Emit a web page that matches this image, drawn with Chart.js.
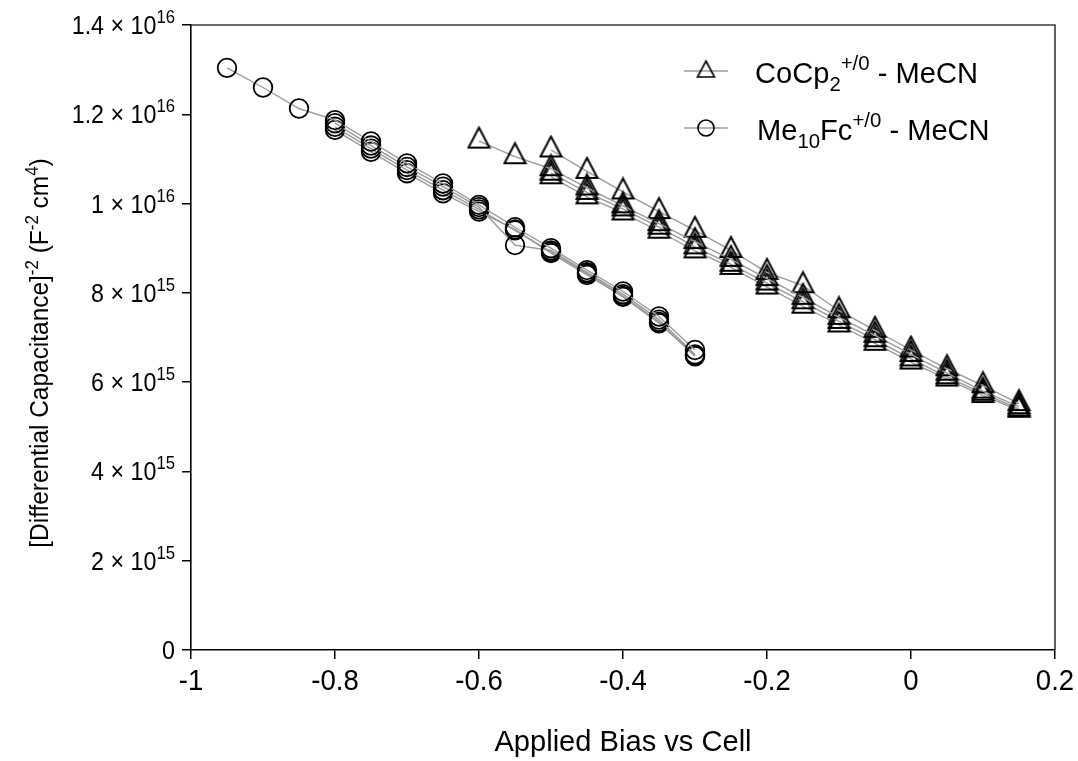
<!DOCTYPE html>
<html>
<head>
<meta charset="utf-8">
<script src="https://cdn.jsdelivr.net/npm/chart.js@4.4.0/dist/chart.umd.min.js"></script>
<style>
    html, body { margin: 0; padding: 0; background: #fff; }
    #wrap { width: 1078px; height: 761px; }
</style>
</head>
<body>
<div id="wrap"><canvas id="mottSchottky" width="1078" height="761"></canvas></div>
<script>
(function () {
    'use strict';

    // values in units of 1e15 F^-2 cm^4
    var biasCo060 = [-0.6, -0.55, -0.5, -0.45, -0.4, -0.35, -0.3, -0.25, -0.2, -0.15, -0.1, -0.05, 0, 0.05, 0.1, 0.15];
    var biasCo050 = [-0.5, -0.45, -0.4, -0.35, -0.3, -0.25, -0.2, -0.15, -0.1, -0.05, 0, 0.05, 0.1, 0.15];
    var capCoScan1 = [11.40, 11.05, 10.78, 10.35, 9.95, 9.55, 9.15, 8.75, 8.32, 7.90, 7.45, 7.05, 6.62, 6.20, 5.80, 5.45];
    var capCoScan2 = [11.20, 10.72, 10.26, 9.82, 9.40, 8.95, 8.46, 8.16, 7.60, 7.16, 6.72, 6.30, 5.92, 5.52];
    var capCoScan3 = [10.68, 10.25, 9.88, 9.47, 9.03, 8.64, 8.22, 7.80, 7.36, 6.95, 6.52, 6.12, 5.75, 5.40];
    var capCoScan4 = [10.60, 10.15, 9.79, 9.38, 8.94, 8.57, 8.13, 7.70, 7.28, 6.87, 6.45, 6.07, 5.70, 5.37];

    var biasMe095 = [-0.95, -0.9, -0.85, -0.8, -0.75, -0.7, -0.65, -0.6, -0.55, -0.5, -0.45, -0.4, -0.35, -0.3];
    var biasMe080 = [-0.8, -0.75, -0.7, -0.65, -0.6, -0.55, -0.5, -0.45, -0.4, -0.35, -0.3];
    var capMeScan1 = [13.04, 12.60, 12.13, 11.87, 11.39, 10.90, 10.45, 9.97, 9.47, 9.00, 8.51, 8.03, 7.47, 6.72];
    var capMeScan2 = [11.80, 11.30, 10.82, 10.38, 9.92, 9.07, 8.95, 8.46, 7.97, 7.40, 6.62];
    var capMeScan3 = [11.72, 11.23, 10.75, 10.30, 9.87, 9.40, 8.92, 8.43, 7.93, 7.35, 6.58];
    var capMeScan4 = [11.65, 11.16, 10.68, 10.23, 9.82, 9.42, 8.89, 8.40, 7.91, 7.32, 6.60];

    var xTickLabels = ['-1', '-0.8', '-0.6', '-0.4', '-0.2', '0', '0.2'];
    var yTickMant = ['0', '2', '4', '6', '8', '1', '1.2', '1.4'];
    var yTickExp = ['', '15', '15', '15', '15', '16', '16', '16'];

    var FONT = '"Liberation Sans", Arial, Helvetica, sans-serif';
    var LINE_GREY = 'rgb(155,155,155)';

    function pts(xs, ys) {
        return xs.map(function (x, i) { return { x: x, y: ys[i] }; });
    }

    // open triangle, canvas centred on the centroid
    function triangleImage(w, h, lw) {
        var pad = 2;
        var c = document.createElement('canvas');
        c.width = Math.ceil(w + 2 * pad);
        c.height = Math.ceil(2 * (pad + 2 * h / 3));
        var g = c.getContext('2d');
        var cx = c.width / 2;
        g.beginPath();
        g.moveTo(cx, pad);
        g.lineTo(cx + w / 2, pad + h);
        g.lineTo(cx - w / 2, pad + h);
        g.closePath();
        g.lineWidth = lw;
        g.strokeStyle = '#000';
        g.stroke();
        return c;
    }
    var triData = triangleImage(21, 20, 2);
    var triLegend = triangleImage(17, 16, 1.6);

    function triSet(xs, ys) {
        return {
            data: pts(xs, ys),
            showLine: true,
            borderColor: LINE_GREY,
            borderWidth: 1.4,
            pointStyle: triData,
            pointRadius: 10,
            tension: 0
        };
    }
    function circSet(xs, ys) {
        return {
            data: pts(xs, ys),
            showLine: true,
            borderColor: LINE_GREY,
            borderWidth: 1.4,
            pointStyle: 'circle',
            pointRadius: 9.3,
            pointBorderColor: '#000',
            pointBorderWidth: 1.8,
            pointBackgroundColor: 'rgba(0,0,0,0)',
            tension: 0
        };
    }

    // text pieces; s: 0 normal, 1 superscript, -1 subscript; sx squeezes glyphs
    function richWidth(ctx, parts, big, small, sx) {
        var w = 0;
        parts.forEach(function (p) {
            ctx.font = (p.s ? small : big) + 'px ' + FONT;
            w += ctx.measureText(p.t).width * sx;
        });
        return w;
    }
    function drawRich(ctx, parts, x, y, big, small, supUp, subDown, sx) {
        ctx.textAlign = 'left';
        ctx.textBaseline = 'alphabetic';
        parts.forEach(function (p) {
            ctx.font = (p.s ? small : big) + 'px ' + FONT;
            var dy = p.s === 1 ? -supUp : (p.s === -1 ? subDown : 0);
            ctx.save();
            ctx.translate(x, y + dy);
            ctx.scale(sx, 1);
            ctx.fillText(p.t, 0, 0);
            ctx.restore();
            x += ctx.measureText(p.t).width * sx;
        });
    }
    function drawNarrow(ctx, text, x, y, size, sx) {
        ctx.font = size + 'px ' + FONT;
        ctx.textAlign = 'center';
        ctx.textBaseline = 'alphabetic';
        ctx.save();
        ctx.translate(x, y);
        ctx.scale(sx, 1);
        ctx.fillText(text, 0, 0);
        ctx.restore();
    }

    var decorations = {
        id: 'decorations',
        afterDraw: function (chart) {
            var ctx = chart.ctx;
            var a = chart.chartArea;
            var xs = chart.scales.x;
            var ys = chart.scales.y;
            ctx.save();

            // top and right frame
            ctx.strokeStyle = '#3a3a3a';
            ctx.lineWidth = 1.6;
            ctx.beginPath();
            ctx.moveTo(a.left, a.top);
            ctx.lineTo(a.right, a.top);
            ctx.lineTo(a.right, a.bottom);
            ctx.stroke();

            ctx.fillStyle = '#000';

            // x tick labels
            xs.ticks.forEach(function (t, i) {
                drawNarrow(ctx, xTickLabels[i], xs.getPixelForValue(t.value), 690, 29, 0.95);
            });

            // y tick labels with powers of ten
            ys.ticks.forEach(function (t, i) {
                var py = ys.getPixelForValue(t.value);
                var parts = yTickExp[i] ?
                    [{ t: yTickMant[i] + ' \u00d7 10', s: 0 }, { t: yTickExp[i], s: 1 }] :
                    [{ t: yTickMant[i], s: 0 }];
                var w = richWidth(ctx, parts, 25, 18, 0.93);
                drawRich(ctx, parts, 175 - w, py + 9, 25, 18, 11, 0, 0.93);
            });

            // axis titles
            drawNarrow(ctx, 'Applied Bias vs Cell', (a.left + a.right) / 2, 751, 30, 0.97);

            var yt = [
                { t: '[Differential Capacitance]', s: 0 }, { t: '-2', s: 1 },
                { t: ' (F', s: 0 }, { t: '-2', s: 1 }, { t: ' cm', s: 0 }, { t: '4', s: 1 },
                { t: ')', s: 0 }
            ];
            ctx.save();
            ctx.translate(48, 353);
            ctx.rotate(-Math.PI / 2);
            var tw = richWidth(ctx, yt, 26, 18, 0.94);
            drawRich(ctx, yt, -tw / 2, 0, 26, 18, 10, 0, 0.94);
            ctx.restore();

            // legend
            var rows = [
                { y: 71, tx: 755, parts: [{ t: 'CoCp', s: 0 }, { t: '2', s: -1 }, { t: '+/0', s: 1 }, { t: ' - MeCN', s: 0 }], tri: true },
                { y: 128, tx: 757, parts: [{ t: 'Me', s: 0 }, { t: '10', s: -1 }, { t: 'Fc', s: 0 }, { t: '+/0', s: 1 }, { t: ' - MeCN', s: 0 }], tri: false }
            ];
            rows.forEach(function (r) {
                ctx.strokeStyle = LINE_GREY;
                ctx.lineWidth = 1.4;
                ctx.beginPath();
                ctx.moveTo(684, r.y);
                ctx.lineTo(728, r.y);
                ctx.stroke();
                if (r.tri) {
                    ctx.drawImage(triLegend, 706 - triLegend.width / 2, r.y + 1 - triLegend.height / 2);
                } else {
                    ctx.strokeStyle = '#000';
                    ctx.lineWidth = 1.6;
                    ctx.beginPath();
                    ctx.arc(706, r.y, 8, 0, Math.PI * 2);
                    ctx.stroke();
                }
                ctx.fillStyle = '#000';
                drawRich(ctx, r.parts, r.tx, r.y + 12, 30, 21, 13, 8, 0.97);
            });

            ctx.restore();
        }
    };

    var canvas = document.getElementById('mottSchottky');
    new Chart(canvas.getContext('2d'), {
        type: 'scatter',
        data: {
            datasets: [
                triSet(biasCo060, capCoScan1),
                triSet(biasCo050, capCoScan2),
                triSet(biasCo050, capCoScan3),
                triSet(biasCo050, capCoScan4),
                circSet(biasMe095, capMeScan1),
                circSet(biasMe080, capMeScan2),
                circSet(biasMe080, capMeScan3),
                circSet(biasMe080, capMeScan4)
            ]
        },
        options: {
            responsive: false,
            animation: false,
            devicePixelRatio: 1,
            layout: { padding: { top: 25, right: 23, left: 0, bottom: 0 } },
            plugins: { legend: { display: false }, tooltip: { enabled: false } },
            scales: {
                x: {
                    type: 'linear',
                    min: -1,
                    max: 0.2,
                    afterFit: function (s) { s.height = 111; },
                    ticks: { stepSize: 0.2, autoSkip: false, maxRotation: 0, display: false },
                    grid: { drawOnChartArea: false, drawTicks: true, tickLength: 9, color: '#000', lineWidth: 1.5 },
                    border: { display: true, color: '#000', width: 1.6 }
                },
                y: {
                    type: 'linear',
                    min: 0,
                    max: 14,
                    afterFit: function (s) { s.width = 191; },
                    ticks: { stepSize: 2, display: false },
                    grid: { drawOnChartArea: false, drawTicks: true, tickLength: 9, color: '#000', lineWidth: 1.5 },
                    border: { display: true, color: '#000', width: 1.6 }
                }
            }
        },
        plugins: [decorations]
    });
})();
</script>
</body>
</html>
